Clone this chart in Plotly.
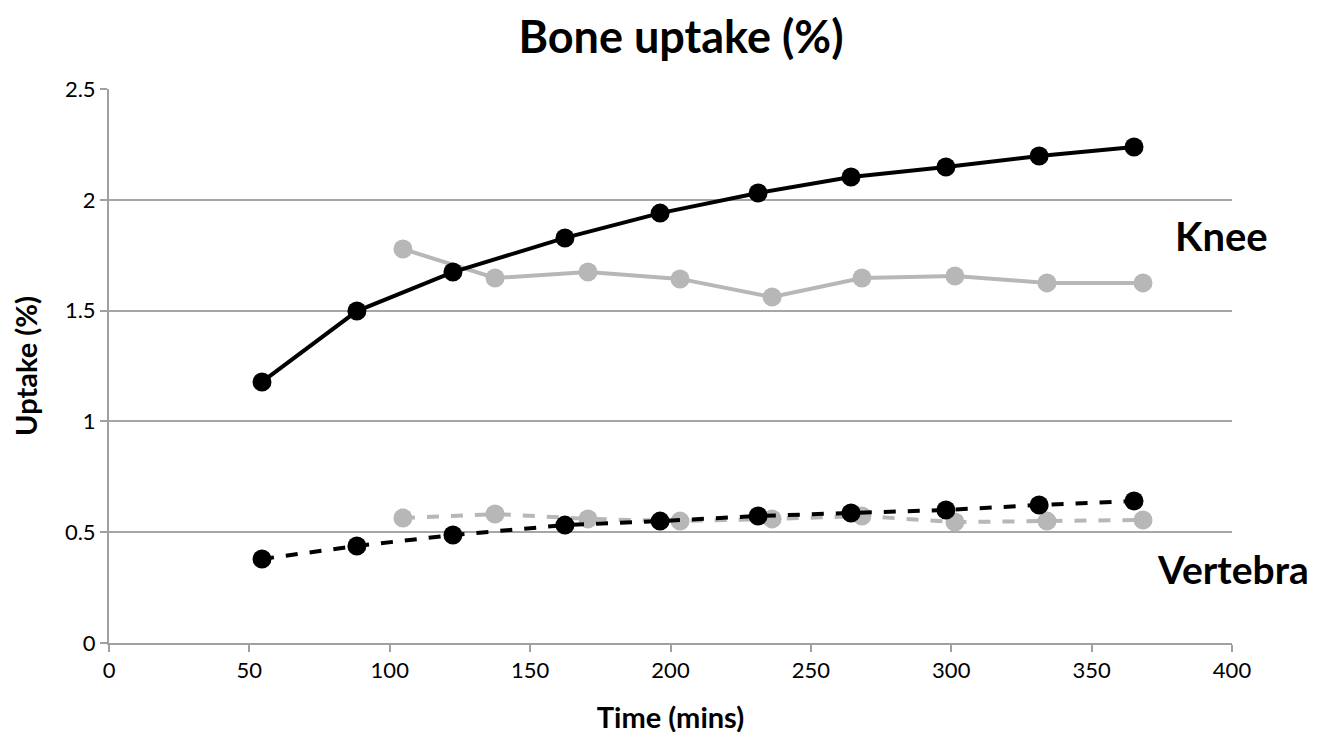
import plotly.graph_objects as go

knee_black_x = [54.5, 88.3, 122.5, 162.4, 196.3, 231.2, 264.3, 298.1, 331.3, 365.1]
knee_black_y = [1.178, 1.498, 1.674, 1.828, 1.940, 2.031, 2.103, 2.148, 2.198, 2.238]
knee_gray_x = [104.7, 137.5, 170.6, 203.4, 236.2, 268.2, 301.3, 334.1, 368.3]
knee_gray_y = [1.778, 1.647, 1.674, 1.643, 1.561, 1.647, 1.656, 1.625, 1.625]
vert_black_x = knee_black_x
vert_black_y = [0.379, 0.438, 0.487, 0.532, 0.550, 0.573, 0.587, 0.600, 0.623, 0.641]
vert_gray_x = knee_gray_x
vert_gray_y = [0.564, 0.582, 0.560, 0.550, 0.560, 0.573, 0.546, 0.550, 0.555]

FONT = "Lato"
BLACK = "#000000"
GRAY = "#b7b7b7"

fig = go.Figure()
def add(x, y, color, dash):
    fig.add_trace(go.Scatter(x=x, y=y, mode="lines+markers",
                             line=dict(color=color, width=4, dash=dash),
                             marker=dict(color=color, size=19),
                             showlegend=False))

add(knee_gray_x, knee_gray_y, GRAY, "solid")
add(knee_black_x, knee_black_y, BLACK, "solid")
add(vert_gray_x, vert_gray_y, GRAY, "dash")
add(vert_black_x, vert_black_y, BLACK, "dash")

fig.update_layout(
    width=1303, height=732,
    margin=dict(l=101, r=79, t=81, b=97),
    paper_bgcolor="white", plot_bgcolor="white",
    font=dict(family=FONT, color="#000000"),
    title=dict(text="<b>Bone uptake (%)</b>", x=0.5165, xanchor="center",
               y=0.960, yanchor="middle", font=dict(size=45, family=FONT)),
    xaxis=dict(range=[0, 400], dtick=50, tick0=0, showgrid=False,
               showline=True, linecolor="#a0a0a0", linewidth=2,
               ticks="outside", ticklen=7, tickwidth=2, tickcolor="#a0a0a0",
               tickfont=dict(size=22), zeroline=False, automargin=False,
               title=dict(text="<b>Time (mins)</b>", font=dict(size=29), standoff=25)),
    yaxis=dict(range=[0, 2.5], dtick=0.5, showgrid=True, gridcolor="#a6a6a6",
               gridwidth=2, showline=True, linecolor="#a0a0a0", linewidth=2,
               ticks="outside", ticklen=7, tickwidth=2, tickcolor="#a0a0a0",
               tickfont=dict(size=22), zeroline=False, automargin=False,
               title=dict(text="<b>Uptake (%)</b>", font=dict(size=29), standoff=28)),
)

fig.add_annotation(text="<b>Knee</b>", x=1.0, xref="paper", y=1.837, yref="y",
                   xanchor="center", yanchor="middle", xshift=-11,
                   showarrow=False, font=dict(size=40, family=FONT))
fig.add_annotation(text="<b>Vertebra</b>", x=1.0, xref="paper", y=0.334, yref="y",
                   xanchor="center", yanchor="middle", xshift=1,
                   showarrow=False, font=dict(size=39, family=FONT))

fig.write_html("out.html")
